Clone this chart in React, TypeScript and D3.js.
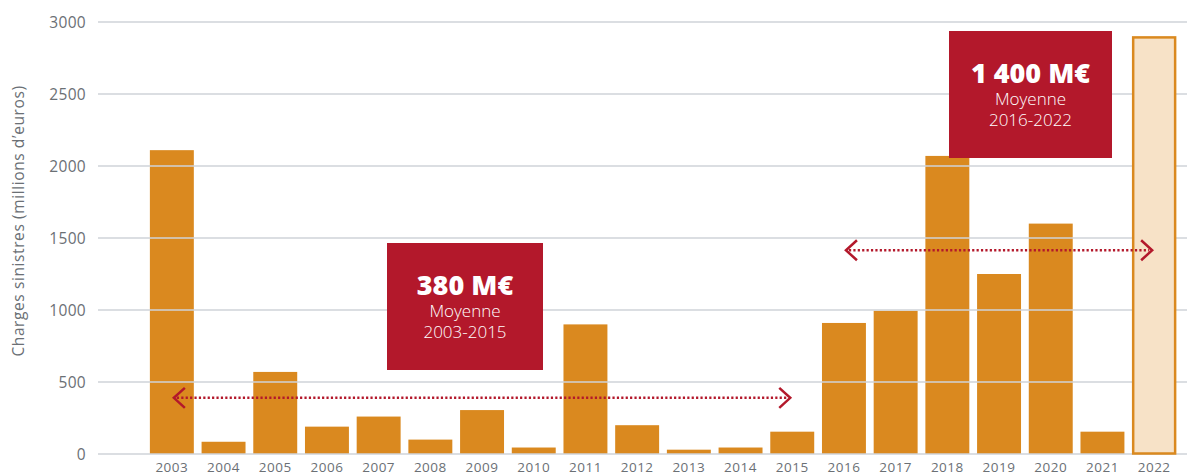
import React from "react";
import * as d3 from "d3";

const years = ["2003","2004","2005","2006","2007","2008","2009","2010","2011","2012","2013","2014","2015","2016","2017","2018","2019","2020","2021","2022"];
const charges = [2110, 85, 570, 190, 260, 100, 305, 45, 900, 200, 30, 45, 155, 910, 995, 2070, 1250, 1600, 155, 2900];
const highlightYear = "2022";
const yTicks = [0, 500, 1000, 1500, 2000, 2500, 3000];
const yTitle = "Charges sinistres (millions d’euros)";

const periods = [
  { from: "2003", to: "2015", level: 390, value: "380 M€", label: "Moyenne", range: "2003-2015" },
  { from: "2016", to: "2022", level: 1415, value: "1 400 M€", label: "Moyenne", range: "2016-2022" },
];

const W = 1187;
const H = 473;
const ORANGE = "#DA891F";
const RED = "#B3182B";
const GRID = "#CFD3D8";
const TEXT = "#6B7075";
const FONT = "'Open Sans', 'Noto Sans', sans-serif";

export default function App() {
  const x = d3.scaleBand<string>().domain(years).range([146, 1180]).paddingInner(0.15).paddingOuter(0.075);
  const y = d3.scaleLinear().domain([0, 3000]).range([454, 22]);
  const bw = x.bandwidth();

  const boxes = [
    { x0: 387, x1: 543, y0: 243, y1: 370 },
    { x0: 949, x1: 1112, y0: 31, y1: 158 },
  ];

  return (
    <svg width={W} height={H} style={{ position: "absolute", left: 0, top: 0, background: "#fff" }} fontFamily={FONT}>
      {/* y title */}
      <text transform={`translate(23.5,221) rotate(-90)`} textAnchor="middle" fontSize={15.5} fill={TEXT} letterSpacing={0.6}>{yTitle}</text>
      {/* y tick labels */}
      {yTicks.map((t) => (
        <text key={t} x={86} y={y(t) + 5.5} textAnchor="end" fontSize={15.5} fill={TEXT} letterSpacing={0.3}>{t}</text>
      ))}
      {/* bars (except highlight) */}
      {years.map((yr, i) => yr === highlightYear ? null : (
        <rect key={yr} x={x(yr)} y={y(charges[i])} width={bw} height={y(0) - y(charges[i])} fill={ORANGE} />
      ))}
      {/* gridlines */}
      {yTicks.map((t) => (
        <line key={t} x1={98} x2={W} y1={y(t)} y2={y(t)} stroke={GRID} strokeWidth={1.5} />
      ))}
      {/* highlight bar */}
      {years.map((yr, i) => yr !== highlightYear ? null : (
        <rect key={yr} x={(x(yr) as number) + 1} y={y(charges[i]) + 1} width={bw - 2} height={y(0) - y(charges[i]) - 1.5} fill="#F7E2C7" stroke={ORANGE} strokeWidth={2.5} />
      ))}
      {/* x labels */}
      {years.map((yr) => (
        <text key={yr} x={(x(yr) as number) + bw / 2} y={472} textAnchor="middle" fontSize={13.5} fill={TEXT} letterSpacing={0.5}>{yr}</text>
      ))}
      {/* period arrows and boxes */}
      {periods.map((p, k) => {
        const xa = (x(p.from) as number) + bw / 2 + 2;
        const xb = (x(p.to) as number) + bw / 2 - 2;
        const yy = y(p.level);
        const b = boxes[k];
        const cx = (b.x0 + b.x1) / 2;
        const baseTop = b.y0;
        return (
          <g key={k}>
            <line x1={xa + 3} x2={xb - 3} y1={yy} y2={yy} stroke={RED} strokeWidth={2.5} strokeDasharray="2.2 2.2" />
            <path d={`M${xa + 11},${yy - 10} L${xa},${yy} L${xa + 11},${yy + 10}`} fill="none" stroke={RED} strokeWidth={2.5} />
            <path d={`M${xb - 11},${yy - 10} L${xb},${yy} L${xb - 11},${yy + 10}`} fill="none" stroke={RED} strokeWidth={2.5} />
            <rect x={b.x0} y={b.y0} width={b.x1 - b.x0} height={b.y1 - b.y0} fill={RED} />
            <text x={cx} y={baseTop + 52} textAnchor="middle" fontSize={27} fontWeight={800} fill="#fff">{p.value}</text>
            <text x={cx} y={baseTop + 74} textAnchor="middle" fontSize={17} fontWeight={300} fill="#fff">{p.label}</text>
            <text x={cx} y={baseTop + 95} textAnchor="middle" fontSize={17} fontWeight={300} fill="#fff">{p.range}</text>
          </g>
        );
      })}
    </svg>
  );
}
